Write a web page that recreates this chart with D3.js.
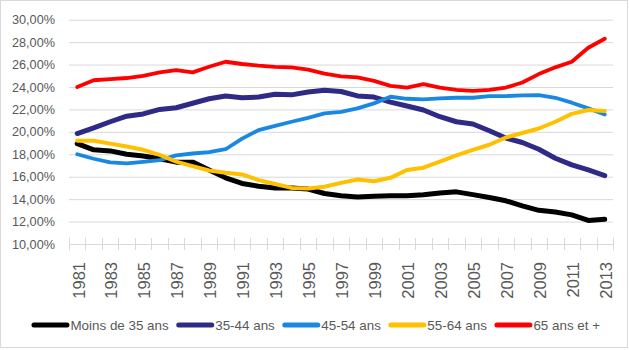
<!DOCTYPE html>
<html lang="fr">
<head>
  <meta charset="UTF-8">
  <title>Répartition par âge</title>
  <script src="https://d3js.org/d3.v7.min.js"></script>
  <style>
    body {
      margin: 0;
      background: #fff;
    }
    svg {
      display: block;
      font-family: "Liberation Sans", Arial, sans-serif;
    }
    .grid line {
      stroke: #d9d9d9;
    }
    .grid text, .xlab, .legend text {
      fill: #595959;
    }
  </style>
</head>
<body>
<div id="chart"></div>
<script>
  const years = [1981, 1982, 1983, 1984, 1985, 1986, 1987, 1988, 1989, 1990,
    1991, 1992, 1993, 1994, 1995, 1996, 1997, 1998, 1999, 2000,
    2001, 2002, 2003, 2004, 2005, 2006, 2007, 2008, 2009, 2010,
    2011, 2012, 2013];
  const tickYears = [1981, 1983, 1985, 1987, 1989, 1991, 1993, 1995, 1997,
    1999, 2001, 2003, 2005, 2007, 2009, 2011, 2013];
  const yTicks = [0.10, 0.12, 0.14, 0.16, 0.18, 0.20, 0.22, 0.24, 0.26, 0.28, 0.30];

  // values in %
  const moins35 = [18.95, 18.4, 18.3, 18.0, 17.85, 17.6, 17.3, 17.3, 16.6, 15.9,
    15.4, 15.15, 15.0, 15.0, 14.9, 14.5, 14.3, 14.2, 14.25, 14.3,
    14.3, 14.4, 14.55, 14.65, 14.4, 14.15, 13.85, 13.4, 13.0, 12.85,
    12.6, 12.1, 12.2];
  const ans35_44 = [19.85, 20.35, 20.9, 21.4, 21.6, 22.0, 22.15, 22.55, 22.95, 23.2,
    23.05, 23.1, 23.35, 23.3, 23.55, 23.7, 23.6, 23.2, 23.1, 22.65,
    22.3, 21.95, 21.35, 20.9, 20.7, 20.1, 19.45, 19.05, 18.45, 17.65,
    17.05, 16.6, 16.1];
  const ans45_54 = [18.0, 17.6, 17.27, 17.18, 17.32, 17.47, 17.9, 18.07, 18.2, 18.45,
    19.4, 20.15, 20.54, 20.9, 21.25, 21.64, 21.79, 22.09, 22.54, 23.13,
    22.95, 22.9, 22.98, 23.04, 23.04, 23.19, 23.19, 23.25, 23.27, 23.04,
    22.6, 22.09, 21.55];
  const ans55_64 = [19.2, 19.2, 18.95, 18.7, 18.4, 17.95, 17.35, 16.95, 16.55, 16.35,
    16.2, 15.7, 15.35, 15.0, 14.95, 15.1, 15.45, 15.75, 15.6, 15.9,
    16.6, 16.8, 17.35, 17.9, 18.4, 18.85, 19.5, 19.9, 20.3, 20.9,
    21.6, 21.95, 21.85];
  const ans65plus = [24.0, 24.6, 24.7, 24.8, 25.0, 25.3, 25.5, 25.3, 25.8, 26.25,
    26.05, 25.9, 25.8, 25.75, 25.55, 25.2, 24.95, 24.85, 24.55, 24.1,
    23.95, 24.25, 23.95, 23.75, 23.65, 23.75, 23.95, 24.4, 25.15, 25.75,
    26.25, 27.5, 28.3];

  const seriesNames = ["Moins de 35 ans", "35-44 ans", "45-54 ans", "55-64 ans", "65 ans et +"];
  const seriesValues = [moins35, ans35_44, ans45_54, ans55_64, ans65plus];
  const seriesColors = ["#000000", "#2e2a85", "#1a88e0", "#ffc000", "#ff0000"];
  const seriesWidths = [5, 5, 3.8, 4, 3.8];

  const width = 629;
  const height = 350;
  const plot = { left: 69, right: 613, top: 19.7, bottom: 244 };

  const fr = d3.formatLocale({ decimal: ",", thousands: " ", grouping: [3], currency: ["", " €"] });
  const pct = fr.format(".2%");

  const svg = d3.select("#chart")
    .append("svg")
    .attr("width", width)
    .attr("height", height);

  // outer border
  svg.append("rect")
    .attr("x", 0.5).attr("y", 0.5)
    .attr("width", width - 2).attr("height", height - 3)
    .attr("fill", "none")
    .attr("stroke", "#d9d9d9");

  const x = d3.scaleBand()
    .domain(years)
    .range([plot.left, plot.right]);

  const y = d3.scaleLinear()
    .domain([0.10, 0.30])
    .range([plot.bottom, plot.top]);

  // horizontal grid + y labels
  svg.append("g")
    .attr("class", "grid")
    .attr("transform", `translate(${plot.left},0)`)
    .call(d3.axisLeft(y)
      .tickValues(yTicks)
      .tickSize(-(plot.right - plot.left))
      .tickPadding(14)
      .tickFormat(pct))
    .call(g => g.select(".domain").remove())
    .call(g => g.selectAll("text")
      .attr("font-size", 12.7));

  // category tick marks (between categories)
  const edges = years.map(d => x(d)).concat([x(years[years.length - 1]) + x.bandwidth()]);
  svg.append("g")
    .selectAll("line")
    .data(edges)
    .join("line")
    .attr("x1", d => Math.round(d) + 0.5)
    .attr("x2", d => Math.round(d) + 0.5)
    .attr("y1", plot.bottom - 6)
    .attr("y2", plot.bottom + 6)
    .attr("stroke", "#d9d9d9");

  // x labels, rotated
  svg.append("g")
    .selectAll("text")
    .data(tickYears)
    .join("text")
    .attr("class", "xlab")
    .attr("transform", d => `translate(${x(d) + x.bandwidth() / 2 + 1.5},262) rotate(-90)`)
    .attr("text-anchor", "end")
    .attr("dy", "0.35em")
    .attr("font-size", 16.5)
    .text(d => d);

  // series lines
  const line = d3.line()
    .x((d, i) => x(years[i]) + x.bandwidth() / 2)
    .y(d => y(d / 100));

  svg.append("g")
    .selectAll("path")
    .data(seriesValues)
    .join("path")
    .attr("d", d => line(d))
    .attr("fill", "none")
    .attr("stroke", (d, i) => seriesColors[i])
    .attr("stroke-width", (d, i) => seriesWidths[i])
    .attr("stroke-linejoin", "round")
    .attr("stroke-linecap", "round");

  // legend
  const legend = svg.append("g").attr("class", "legend");
  const items = legend.selectAll("g")
    .data(seriesNames)
    .join("g");

  items.append("line")
    .attr("x1", 2).attr("x2", 35)
    .attr("y1", 0).attr("y2", 0)
    .attr("stroke", (d, i) => seriesColors[i])
    .attr("stroke-width", 5)
    .attr("stroke-linecap", "round");

  items.append("text")
    .attr("x", 38.5)
    .attr("dy", "0.35em")
    .attr("font-size", 13.4)
    .text(d => d);

  let cursor = 0;
  items.each(function () {
    const w = 38.5 + this.querySelector("text").getComputedTextLength();
    d3.select(this).attr("transform", `translate(${cursor},0)`);
    cursor += w + 8;
  });
  const total = cursor - 8;
  legend.attr("transform", `translate(${(38 + 594) / 2 - total / 2},325)`);
</script>
</body>
</html>
